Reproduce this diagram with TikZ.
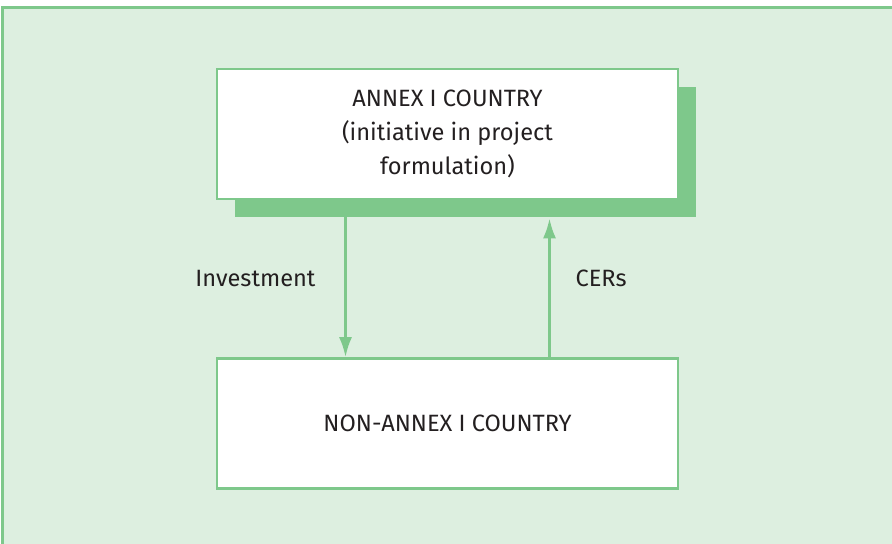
\documentclass[tikz,border=0pt]{standalone}
\usepackage{fontspec}
\setmainfont{Fira Sans}
\usetikzlibrary{arrows.meta,shadows}
\definecolor{leafgreen}{HTML}{7EC88B}
\definecolor{palegreen}{HTML}{DDEFE0}
\definecolor{inkgray}{HTML}{231F20}

\begin{document}
\begin{tikzpicture}[x=0.5pt, y=-0.5pt, node distance=144.75pt, >={Latex[length=10pt,width=6.5pt]},
    box/.style={rectangle, draw=leafgreen, line width=1.3pt, fill=white, text=inkgray,
      minimum width=230.5pt, minimum height=65pt, align=center},
    flow/.style={leafgreen, line width=1.4pt},
    flowlabel/.style={text=inkgray}]
        \useasboundingbox (0,0) rectangle (892,543);
        \fill [palegreen] (2,7) rectangle (900,550);
        \draw [leafgreen, line width=1.5pt] (2,550) -- (2,7) -- (900,7);

        \node (annex) [box, font=\fontsize{11.8}{17}\selectfont,
            drop shadow={shadow xshift=8.75pt, shadow yshift=-9pt, fill=leafgreen, opacity=1}]
            at (447.5,134) {ANNEX I COUNTRY\\(initiative in project\\formulation)};
        \node (nonannex) [box, font=\fontsize{11.8}{17}\selectfont, below of=annex] {NON-ANNEX I COUNTRY};

        % The two flows between the countries
        \draw [->, flow] ([xshift=-51pt]annex.south) -- ([xshift=-51pt]nonannex.north)
            node [midway, left=11pt, flowlabel, font=\fontsize{11.8}{17}\selectfont] {Investment};
        \draw [->, flow, shorten >=9pt] ([xshift=51pt]nonannex.north) -- ([xshift=51pt]annex.south)
            node [midway, right=9pt, flowlabel, font=\fontsize{11.8}{17}\selectfont] {CERs};
    \end{tikzpicture}
\end{document}
